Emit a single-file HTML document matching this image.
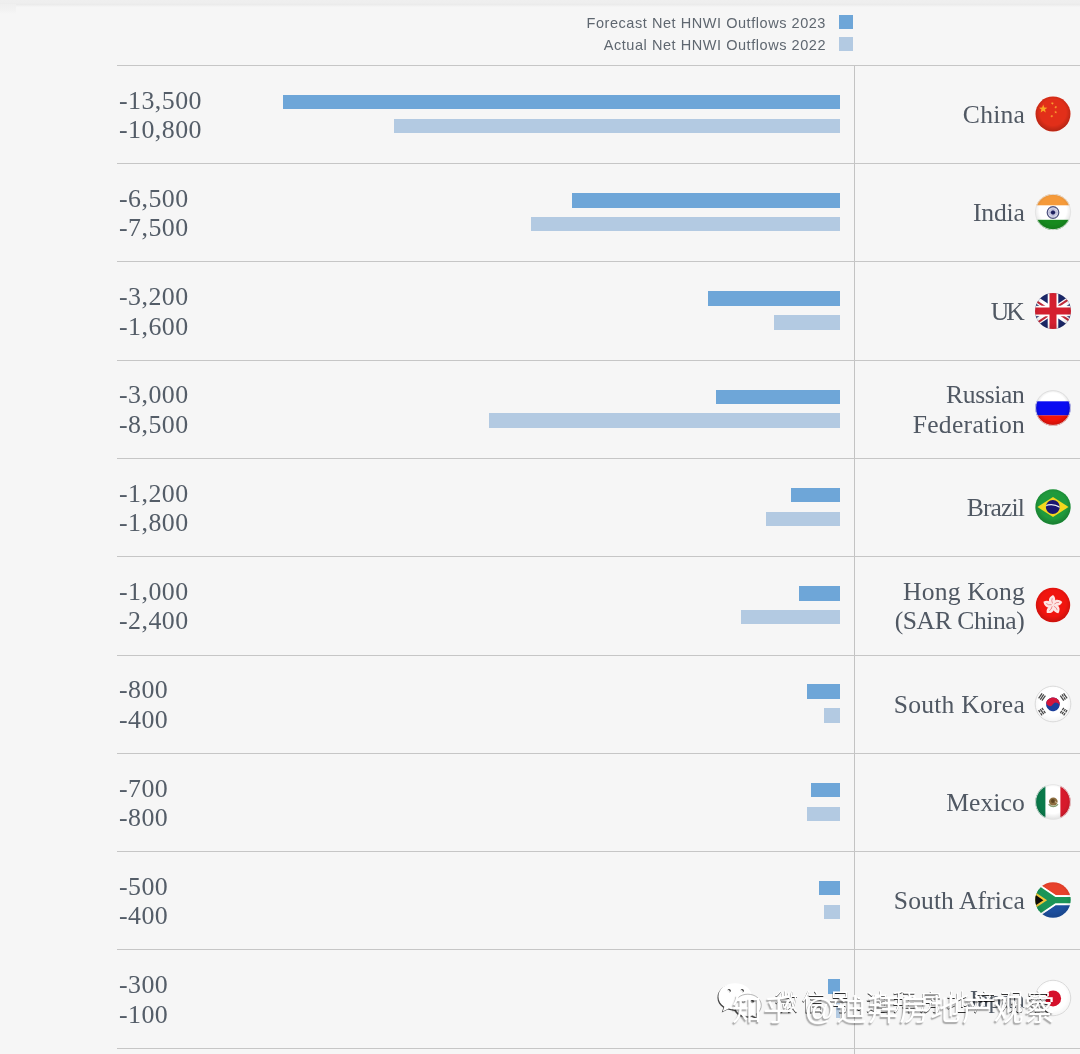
<!DOCTYPE html>
<html lang="en">
<head>
<meta charset="utf-8">
<title>Net HNWI Outflows</title>
<style>
html,body{margin:0;padding:0;}
body{width:1080px;height:1054px;overflow:hidden;background:#f6f6f6;position:relative;
  font-family:"Liberation Serif","Noto Serif CJK SC",serif;}
#chart{will-change:transform;position:absolute;left:0;top:0;width:1080px;height:1054px;overflow:hidden;background:#f6f6f6;}
.topstrip{position:absolute;left:0;top:0;width:1080px;height:8px;background:linear-gradient(to bottom,#efefef 0,#eeeeee 3px,#ebebeb 4.6px,#f2f2f2 6px,#f6f6f6 7.5px);}
.corner{position:absolute;left:0;top:4px;width:16px;height:10px;background:linear-gradient(to bottom,#efefef,#f3f3f3 70%,#f6f6f6);}
.hl{position:absolute;left:117px;width:963px;height:1px;background:#c6c6c6;}
.vl{position:absolute;left:854px;top:65px;width:1px;height:989px;background:#c3c3c3;}
.leg{position:absolute;right:254px;white-space:nowrap;font-family:"Liberation Sans",sans-serif;
  font-size:14.5px;line-height:16px;color:#5f6770;letter-spacing:0.55px;}
.sw{position:absolute;left:839px;width:14px;height:14px;}
.c1{background:#6ea6d8;}
.c2{background:#b3cae2;}
.val{position:absolute;left:119px;white-space:nowrap;font-size:25.9px;line-height:29.4px;color:#545d68;letter-spacing:0.45px;}
.bar{position:absolute;height:14.5px;}
.lab{position:absolute;right:55.2px;text-align:right;white-space:nowrap;font-size:25.6px;line-height:29.8px;color:#505863;}
.flag{position:absolute;left:1035.4px;width:36px;height:36px;}
.flag svg{display:block;width:36px;height:36px;overflow:visible;}
.wx{position:absolute;left:717px;top:982px;height:40px;white-space:nowrap;}
.wxicon{position:absolute;left:0;top:0;width:46px;height:38px;filter:drop-shadow(-0.3px 1px 0.3px rgba(0,0,0,0.72));}
.wxtext{position:absolute;left:58px;top:5px;font-family:"Liberation Sans","Noto Sans CJK SC",sans-serif;font-size:23px;line-height:30px;
  letter-spacing:3.9px;color:#ffffff;text-shadow:-0.3px 1px 0.3px rgba(0,0,0,0.8);}
.zh{position:absolute;left:732px;top:987.5px;white-space:nowrap;font-family:"Liberation Sans","Noto Sans CJK SC",sans-serif;
  font-size:30px;line-height:44px;letter-spacing:1.4px;font-weight:400;color:#ffffff;text-shadow:-1.2px 1.6px 1.2px rgba(0,0,0,0.33);}
</style>
</head>
<body>
<div id="chart">
<div class="topstrip"></div>
<div class="corner"></div>

<!-- legend -->
<div class="leg" style="top:14.5px;">Forecast Net HNWI Outflows 2023</div>
<div class="sw c1" style="top:15px;"></div>
<div class="leg" style="top:36.5px;">Actual Net HNWI Outflows 2022</div>
<div class="sw c2" style="top:37px;"></div>

<!-- grid -->
<div class="vl"></div>
<div class="hl" style="top:64.8px;"></div>
<div class="hl" style="top:163.1px;"></div>
<div class="hl" style="top:261.4px;"></div>
<div class="hl" style="top:359.6px;"></div>
<div class="hl" style="top:457.9px;"></div>
<div class="hl" style="top:556.2px;"></div>
<div class="hl" style="top:654.5px;"></div>
<div class="hl" style="top:752.8px;"></div>
<div class="hl" style="top:851.0px;"></div>
<div class="hl" style="top:949.3px;"></div>
<div class="hl" style="top:1047.6px;"></div>
<!-- row 1 -->
<div class="val" style="top:85.6px;">-13,500<br>-10,800</div>
<div class="bar c1" style="left:283.0px;width:557.0px;top:94.7px;"></div>
<div class="bar c2" style="left:394.4px;width:445.6px;top:118.5px;"></div>
<div class="lab" style="top:100.1px;"><span style="letter-spacing:0.2px;margin-right:-0.2px;">China</span></div>
<div class="flag" style="top:95.7px;"><svg viewBox="0 0 36 36" width="36" height="36"><defs><clipPath id="fc1"><circle cx="18" cy="18" r="17.5"/></clipPath><radialGradient id="fg1" cx="50%" cy="45%" r="52%"><stop offset="0.72" stop-color="#000" stop-opacity="0"/><stop offset="1" stop-color="#000" stop-opacity="0.18"/></radialGradient></defs><g clip-path="url(#fc1)"><rect width="36" height="36" fill="#e22f19"/><polygon points="8.20,8.60 9.29,11.50 12.38,11.64 9.96,13.57 10.79,16.56 8.20,14.85 5.61,16.56 6.44,13.57 4.02,11.64 7.11,11.50" fill="#f9a825"/><polygon points="18.20,6.01 18.01,7.13 18.97,7.73 17.85,7.90 17.57,8.99 17.06,7.98 15.94,8.05 16.74,7.26 16.33,6.21 17.33,6.73" fill="#f9a030"/><polygon points="22.01,10.28 21.37,11.21 21.98,12.16 20.90,11.84 20.18,12.71 20.15,11.59 19.10,11.17 20.16,10.80 20.23,9.67 20.92,10.56" fill="#f9a030"/><polygon points="20.70,14.60 21.09,15.66 22.22,15.71 21.34,16.41 21.64,17.49 20.70,16.87 19.76,17.49 20.06,16.41 19.18,15.71 20.31,15.66" fill="#f9a030"/><polygon points="17.60,18.71 17.41,19.83 18.37,20.43 17.25,20.60 16.97,21.69 16.46,20.68 15.34,20.75 16.14,19.96 15.73,18.91 16.73,19.43" fill="#f9a030"/><circle cx="18" cy="18" r="17.5" fill="url(#fg1)"/></g></svg></div>
<!-- row 2 -->
<div class="val" style="top:183.9px;">-6,500<br>-7,500</div>
<div class="bar c1" style="left:571.8px;width:268.2px;top:193.0px;"></div>
<div class="bar c2" style="left:530.6px;width:309.4px;top:216.8px;"></div>
<div class="lab" style="top:198.4px;"><span style="letter-spacing:-0.2px;margin-right:0.2px;">India</span></div>
<div class="flag" style="top:194.0px;"><svg viewBox="0 0 36 36" width="36" height="36"><defs><clipPath id="fc2"><circle cx="18" cy="18" r="18.0"/></clipPath><radialGradient id="fg2" cx="50%" cy="45%" r="52%"><stop offset="0.72" stop-color="#000" stop-opacity="0"/><stop offset="1" stop-color="#000" stop-opacity="0.1"/></radialGradient></defs><g clip-path="url(#fc2)"><rect width="36" height="36" fill="#ffffff"/><rect width="36" height="11.3" fill="#f59a3a"/><rect y="25.8" width="36" height="10.2" fill="#168a1e"/><line x1="18" y1="18.5" x2="23.60" y2="18.50" stroke="#4a4f9a" stroke-width="0.35"/><line x1="18" y1="18.5" x2="23.41" y2="19.95" stroke="#4a4f9a" stroke-width="0.35"/><line x1="18" y1="18.5" x2="22.85" y2="21.30" stroke="#4a4f9a" stroke-width="0.35"/><line x1="18" y1="18.5" x2="21.96" y2="22.46" stroke="#4a4f9a" stroke-width="0.35"/><line x1="18" y1="18.5" x2="20.80" y2="23.35" stroke="#4a4f9a" stroke-width="0.35"/><line x1="18" y1="18.5" x2="19.45" y2="23.91" stroke="#4a4f9a" stroke-width="0.35"/><line x1="18" y1="18.5" x2="18.00" y2="24.10" stroke="#4a4f9a" stroke-width="0.35"/><line x1="18" y1="18.5" x2="16.55" y2="23.91" stroke="#4a4f9a" stroke-width="0.35"/><line x1="18" y1="18.5" x2="15.20" y2="23.35" stroke="#4a4f9a" stroke-width="0.35"/><line x1="18" y1="18.5" x2="14.04" y2="22.46" stroke="#4a4f9a" stroke-width="0.35"/><line x1="18" y1="18.5" x2="13.15" y2="21.30" stroke="#4a4f9a" stroke-width="0.35"/><line x1="18" y1="18.5" x2="12.59" y2="19.95" stroke="#4a4f9a" stroke-width="0.35"/><line x1="18" y1="18.5" x2="12.40" y2="18.50" stroke="#4a4f9a" stroke-width="0.35"/><line x1="18" y1="18.5" x2="12.59" y2="17.05" stroke="#4a4f9a" stroke-width="0.35"/><line x1="18" y1="18.5" x2="13.15" y2="15.70" stroke="#4a4f9a" stroke-width="0.35"/><line x1="18" y1="18.5" x2="14.04" y2="14.54" stroke="#4a4f9a" stroke-width="0.35"/><line x1="18" y1="18.5" x2="15.20" y2="13.65" stroke="#4a4f9a" stroke-width="0.35"/><line x1="18" y1="18.5" x2="16.55" y2="13.09" stroke="#4a4f9a" stroke-width="0.35"/><line x1="18" y1="18.5" x2="18.00" y2="12.90" stroke="#4a4f9a" stroke-width="0.35"/><line x1="18" y1="18.5" x2="19.45" y2="13.09" stroke="#4a4f9a" stroke-width="0.35"/><line x1="18" y1="18.5" x2="20.80" y2="13.65" stroke="#4a4f9a" stroke-width="0.35"/><line x1="18" y1="18.5" x2="21.96" y2="14.54" stroke="#4a4f9a" stroke-width="0.35"/><line x1="18" y1="18.5" x2="22.85" y2="15.70" stroke="#4a4f9a" stroke-width="0.35"/><line x1="18" y1="18.5" x2="23.41" y2="17.05" stroke="#4a4f9a" stroke-width="0.35"/><circle cx="18" cy="18.5" r="5.8" fill="none" stroke="#4d527f" stroke-width="1.2"/><circle cx="18" cy="18.5" r="2.1" fill="#1d1f5e"/><circle cx="18" cy="18" r="18.0" fill="url(#fg2)"/></g><circle cx="18" cy="18" r="17.65" fill="none" stroke="#e3e3e3" stroke-width="0.9"/></svg></div>
<!-- row 3 -->
<div class="val" style="top:282.2px;">-3,200<br>-1,600</div>
<div class="bar c1" style="left:708.0px;width:132.0px;top:291.3px;"></div>
<div class="bar c2" style="left:774.0px;width:66.0px;top:315.1px;"></div>
<div class="lab" style="top:296.7px;"><span style="letter-spacing:-2.9px;margin-right:2.9px;">UK</span></div>
<div class="flag" style="top:292.5px;"><svg viewBox="0 0 36 36" width="36" height="36"><defs><clipPath id="fc3"><circle cx="18" cy="18" r="18.0"/></clipPath><radialGradient id="fg3" cx="50%" cy="45%" r="52%"><stop offset="0.72" stop-color="#000" stop-opacity="0"/><stop offset="1" stop-color="#000" stop-opacity="0.1"/></radialGradient></defs><g clip-path="url(#fc3)"><rect x="-9" width="54" height="36" fill="#1b2869"/><defs><clipPath id="ukt"><path d="M18,18 h27 v18 z v18 h-27 z h-27 v-18 z v-18 h27 z"/></clipPath></defs><path d="M-9,0 L45,36 M45,0 L-9,36" stroke="#fff" stroke-width="6.6"/><path d="M-9,0 L45,36 M45,0 L-9,36" stroke="#c02a3a" stroke-width="4.2" clip-path="url(#ukt)"/><path d="M18,0 v36 M-9,18 h54" stroke="#fff" stroke-width="10.6"/><path d="M18,0 v36 M-9,18 h54" stroke="#d4202f" stroke-width="7.0"/><circle cx="18" cy="18" r="18.0" fill="url(#fg3)"/></g></svg></div>
<!-- row 4 -->
<div class="val" style="top:380.4px;">-3,000<br>-8,500</div>
<div class="bar c1" style="left:716.2px;width:123.8px;top:389.5px;"></div>
<div class="bar c2" style="left:489.3px;width:350.7px;top:413.3px;"></div>
<div class="lab" style="top:380.0px;"><span style="letter-spacing:-0.38px;margin-right:0.38px;">Russian</span><br><span style="letter-spacing:0.3px;margin-right:-0.3px;">Federation</span></div>
<div class="flag" style="top:390.2px;"><svg viewBox="0 0 36 36" width="36" height="36"><defs><clipPath id="fc4"><circle cx="18" cy="18" r="17.75"/></clipPath><radialGradient id="fg4" cx="50%" cy="45%" r="52%"><stop offset="0.72" stop-color="#000" stop-opacity="0"/><stop offset="1" stop-color="#000" stop-opacity="0.16"/></radialGradient></defs><g clip-path="url(#fc4)"><rect width="36" height="36" fill="#ffffff"/><rect y="11.3" width="36" height="14.2" fill="#0a0cf2"/><rect y="25.4" width="36" height="10.6" fill="#f5140a"/><circle cx="18" cy="18" r="17.75" fill="url(#fg4)"/></g><circle cx="18" cy="18" r="17.40" fill="none" stroke="#dcdcdc" stroke-width="0.9"/></svg></div>
<!-- row 5 -->
<div class="val" style="top:478.7px;">-1,200<br>-1,800</div>
<div class="bar c1" style="left:790.5px;width:49.5px;top:487.8px;"></div>
<div class="bar c2" style="left:765.7px;width:74.3px;top:511.6px;"></div>
<div class="lab" style="top:493.2px;"><span style="letter-spacing:-0.9px;margin-right:0.9px;">Brazil</span></div>
<div class="flag" style="top:489.4px;"><svg viewBox="0 0 36 36" width="36" height="36"><defs><clipPath id="fc5"><circle cx="18" cy="18" r="17.65"/></clipPath><radialGradient id="fg5" cx="50%" cy="45%" r="52%"><stop offset="0.72" stop-color="#000" stop-opacity="0"/><stop offset="1" stop-color="#000" stop-opacity="0.16"/></radialGradient></defs><g clip-path="url(#fc5)"><rect width="36" height="36" fill="#1f9a3c"/><polygon points="2.4,18 18,8.1 33.6,18 18,27.9" fill="#f3d71e"/><circle cx="17.8" cy="18" r="6.9" fill="#1b1670"/><defs><clipPath id="brc"><circle cx="17.8" cy="18" r="6.9"/></clipPath></defs><path d="M9.5,17.2 Q18,13.2 26.5,19.2" fill="none" stroke="#e9ecf5" stroke-width="1.4" clip-path="url(#brc)"/><circle cx="18" cy="18" r="17.65" fill="url(#fg5)"/></g></svg></div>
<!-- row 6 -->
<div class="val" style="top:577.0px;">-1,000<br>-2,400</div>
<div class="bar c1" style="left:798.7px;width:41.3px;top:586.1px;"></div>
<div class="bar c2" style="left:741.0px;width:99.0px;top:609.9px;"></div>
<div class="lab" style="top:576.6px;"><span style="letter-spacing:0.2px;margin-right:-0.2px;">Hong Kong</span><br><span style="letter-spacing:-0.42px;margin-right:0.42px;">(SAR China)</span></div>
<div class="flag" style="top:587.1px;"><svg viewBox="0 0 36 36" width="36" height="36"><defs><clipPath id="fc6"><circle cx="18" cy="18" r="17.2"/></clipPath><radialGradient id="fg6" cx="50%" cy="45%" r="52%"><stop offset="0.72" stop-color="#000" stop-opacity="0"/><stop offset="1" stop-color="#000" stop-opacity="0.14"/></radialGradient></defs><g clip-path="url(#fc6)"><rect width="36" height="36" fill="#f0150f"/><g transform="translate(17.8,18)"><g transform="rotate(-3)"><path d="M0,0.4 C-4.9,-1.6 -5.2,-7.4 0.7,-9.9 C3.9,-7.0 3.0,-2.4 0,0.4 Z" fill="#fde6e4"/><path d="M0,-1.2 Q-1.6,-4.5 -0.2,-6.8" fill="none" stroke="#e0303a" stroke-width="0.45"/></g><g transform="rotate(69)"><path d="M0,0.4 C-4.9,-1.6 -5.2,-7.4 0.7,-9.9 C3.9,-7.0 3.0,-2.4 0,0.4 Z" fill="#fde6e4"/><path d="M0,-1.2 Q-1.6,-4.5 -0.2,-6.8" fill="none" stroke="#e0303a" stroke-width="0.45"/></g><g transform="rotate(141)"><path d="M0,0.4 C-4.9,-1.6 -5.2,-7.4 0.7,-9.9 C3.9,-7.0 3.0,-2.4 0,0.4 Z" fill="#fde6e4"/><path d="M0,-1.2 Q-1.6,-4.5 -0.2,-6.8" fill="none" stroke="#e0303a" stroke-width="0.45"/></g><g transform="rotate(213)"><path d="M0,0.4 C-4.9,-1.6 -5.2,-7.4 0.7,-9.9 C3.9,-7.0 3.0,-2.4 0,0.4 Z" fill="#fde6e4"/><path d="M0,-1.2 Q-1.6,-4.5 -0.2,-6.8" fill="none" stroke="#e0303a" stroke-width="0.45"/></g><g transform="rotate(285)"><path d="M0,0.4 C-4.9,-1.6 -5.2,-7.4 0.7,-9.9 C3.9,-7.0 3.0,-2.4 0,0.4 Z" fill="#fde6e4"/><path d="M0,-1.2 Q-1.6,-4.5 -0.2,-6.8" fill="none" stroke="#e0303a" stroke-width="0.45"/></g></g><circle cx="18" cy="18" r="17.2" fill="url(#fg6)"/></g></svg></div>
<!-- row 7 -->
<div class="val" style="top:675.3px;">-800<br>-400</div>
<div class="bar c1" style="left:807.0px;width:33.0px;top:684.4px;"></div>
<div class="bar c2" style="left:823.5px;width:16.5px;top:708.2px;"></div>
<div class="lab" style="top:689.8px;"><span style="letter-spacing:0.25px;margin-right:-0.25px;">South Korea</span></div>
<div class="flag" style="top:685.8px;"><svg viewBox="0 0 36 36" width="36" height="36"><defs><clipPath id="fc7"><circle cx="18" cy="18" r="18.2"/></clipPath><radialGradient id="fg7" cx="50%" cy="45%" r="52%"><stop offset="0.72" stop-color="#000" stop-opacity="0"/><stop offset="1" stop-color="#000" stop-opacity="0.04"/></radialGradient></defs><g clip-path="url(#fc7)"><rect width="36" height="36" fill="#ffffff"/><g transform="translate(17.9,18.3) rotate(30)"><circle r="6.9" fill="#1c3f9b"/><path d="M-6.9,0 A6.9,6.9 0 0 1 6.9,0 A3.45,3.45 0 0 0 0,0 A3.45,3.45 0 0 1 -6.9,0 Z" fill="#d3163b"/></g><g transform="translate(7.0,11.0) rotate(-56)" fill="#454545"><rect x="-3.1" y="-2.62" width="6.2" height="1.25"/><rect x="-3.1" y="-0.62" width="6.2" height="1.25"/><rect x="-3.1" y="1.38" width="6.2" height="1.25"/></g><g transform="translate(28.7,11.0) rotate(56)" fill="#454545"><rect x="-3.1" y="-2.62" width="6.2" height="1.25"/><rect x="-3.1" y="-0.62" width="2.7" height="1.25"/><rect x="0.4" y="-0.62" width="2.7" height="1.25"/><rect x="-3.1" y="1.38" width="6.2" height="1.25"/></g><g transform="translate(7.0,25.6) rotate(56)" fill="#454545"><rect x="-3.1" y="-2.62" width="2.7" height="1.25"/><rect x="0.4" y="-2.62" width="2.7" height="1.25"/><rect x="-3.1" y="-0.62" width="6.2" height="1.25"/><rect x="-3.1" y="1.38" width="2.7" height="1.25"/><rect x="0.4" y="1.38" width="2.7" height="1.25"/></g><g transform="translate(28.7,25.6) rotate(-56)" fill="#454545"><rect x="-3.1" y="-2.62" width="2.7" height="1.25"/><rect x="0.4" y="-2.62" width="2.7" height="1.25"/><rect x="-3.1" y="-0.62" width="2.7" height="1.25"/><rect x="0.4" y="-0.62" width="2.7" height="1.25"/><rect x="-3.1" y="1.38" width="2.7" height="1.25"/><rect x="0.4" y="1.38" width="2.7" height="1.25"/></g><circle cx="18" cy="18" r="18.2" fill="url(#fg7)"/></g><circle cx="18" cy="18" r="17.85" fill="none" stroke="#d6d6d6" stroke-width="0.9"/></svg></div>
<!-- row 8 -->
<div class="val" style="top:773.6px;">-700<br>-800</div>
<div class="bar c1" style="left:811.1px;width:28.9px;top:782.7px;"></div>
<div class="bar c2" style="left:807.0px;width:33.0px;top:806.5px;"></div>
<div class="lab" style="top:788.1px;"><span style="letter-spacing:0.1px;margin-right:-0.1px;">Mexico</span></div>
<div class="flag" style="top:784.3px;"><svg viewBox="0 0 36 36" width="36" height="36"><defs><clipPath id="fc8"><circle cx="18" cy="18" r="17.75"/></clipPath><radialGradient id="fg8" cx="50%" cy="45%" r="52%"><stop offset="0.72" stop-color="#000" stop-opacity="0"/><stop offset="1" stop-color="#000" stop-opacity="0.1"/></radialGradient></defs><g clip-path="url(#fc8)"><rect width="36" height="36" fill="#ffffff"/><rect width="10.4" height="36" fill="#0a7a4b"/><rect x="25.4" width="10.6" height="36" fill="#d71a2c"/><ellipse cx="18.3" cy="17.6" rx="4.3" ry="4.0" fill="#8d6e40"/><circle cx="17.9" cy="17.0" r="1.9" fill="#5f4522"/><path d="M13.6,20.2 Q18.3,25.0 23.0,20.2" fill="none" stroke="#86a073" stroke-width="1.4"/><path d="M19.9,17.6 l1.8,1.1" stroke="#d9c9a5" stroke-width="1"/><circle cx="18" cy="18" r="17.75" fill="url(#fg8)"/></g><circle cx="18" cy="18" r="17.40" fill="none" stroke="#e3e3e3" stroke-width="0.9"/></svg></div>
<!-- row 9 -->
<div class="val" style="top:871.8px;">-500<br>-400</div>
<div class="bar c1" style="left:819.4px;width:20.6px;top:880.9px;"></div>
<div class="bar c2" style="left:823.5px;width:16.5px;top:904.7px;"></div>
<div class="lab" style="top:886.3px;"><span style="letter-spacing:0.08px;margin-right:-0.08px;">South Africa</span></div>
<div class="flag" style="top:882.0px;"><svg viewBox="0 0 36 36" width="36" height="36"><defs><clipPath id="fc9"><circle cx="18" cy="18" r="17.75"/></clipPath><radialGradient id="fg9" cx="50%" cy="45%" r="52%"><stop offset="0.72" stop-color="#000" stop-opacity="0"/><stop offset="1" stop-color="#000" stop-opacity="0.1"/></radialGradient></defs><g clip-path="url(#fc9)"><rect width="36" height="36" fill="#ffffff"/><polygon points="-1,-1 37,-1 37,13.2 20.3,13.2 -1,-1.2" fill="#e8412b"/><polygon points="-1,37 37,37 37,23.1 20.3,23.1 -1,37.5" fill="#1d4f9e"/><path d="M37,18.15 H19.4 L-8,-0.3 M19.4,18.15 L-8,36.6" fill="none" stroke="#fff" stroke-width="10" stroke-linejoin="miter"/><path d="M37,18.15 H19.4 L-8,-0.3 M19.4,18.15 L-8,36.6" fill="none" stroke="#1b9558" stroke-width="6.3" stroke-linejoin="miter"/><polygon points="19.4,18.15 -8,-0.3 -8,36.6" fill="#1b9558"/><polygon points="12.1,18.15 -1,9.3 -1,27.0" fill="#f3c737"/><polygon points="8.4,18.15 -1,11.8 -1,24.5" fill="#0d0d0d"/><circle cx="18" cy="18" r="17.75" fill="url(#fg9)"/></g></svg></div>
<!-- row 10 -->
<div class="val" style="top:970.1px;">-300<br>-100</div>
<div class="bar c1" style="left:827.6px;width:12.4px;top:979.2px;"></div>
<div class="bar c2" style="left:835.9px;width:4.1px;top:1003.0px;"></div>
<div class="lab" style="top:984.6px;"><span style="letter-spacing:-0.3px;margin-right:0.3px;">Japan</span></div>
<div class="flag" style="top:980.2px;"><svg viewBox="0 0 36 36" width="36" height="36"><defs><clipPath id="fc10"><circle cx="18" cy="18" r="18.1"/></clipPath><radialGradient id="fg10" cx="50%" cy="45%" r="52%"><stop offset="0.72" stop-color="#000" stop-opacity="0"/><stop offset="1" stop-color="#000" stop-opacity="0.04"/></radialGradient></defs><g clip-path="url(#fc10)"><rect width="36" height="36" fill="#ffffff"/><circle cx="18.1" cy="18.4" r="8" fill="#d5102b"/><circle cx="18" cy="18" r="18.1" fill="url(#fg10)"/></g><circle cx="18" cy="18" r="17.75" fill="none" stroke="#d6d6d6" stroke-width="0.9"/></svg></div>
<!-- WeChat watermark -->
<div class="wx">
<svg class="wxicon" viewBox="0 0 32 28" width="46" height="38" preserveAspectRatio="none">
<path fill="#ffffff" fill-rule="evenodd" d="M12.6,1.0 C6.0,1.0 1.0,5.3 1.0,10.8 C1.0,13.8 2.6,16.4 5.1,18.2 L4.0,21.8 L8.2,19.6 C9.6,20.1 11.0,20.4 12.6,20.4 C19.2,20.4 24.2,16.1 24.2,10.8 C24.2,5.3 19.2,1.0 12.6,1.0 Z M8.4,5.2 a1.25,1.25 0 1 0 0.01,0 Z M17.5,5.2 a1.25,1.25 0 1 0 0.01,0 Z"/>
<path fill="#ffffff" fill-rule="evenodd" stroke="#444" stroke-opacity="0.55" stroke-width="0.5" d="M21.4,9.0 C16.2,9.0 12.2,12.6 12.2,17.2 C12.2,21.8 16.2,25.4 21.4,25.4 C22.6,25.4 23.7,25.2 24.8,24.8 L28.2,26.8 L27.3,23.6 C29.5,22.1 30.8,19.8 30.8,17.2 C30.8,12.6 26.6,9.0 21.4,9.0 Z M18.3,13.2 a1.05,1.05 0 1 0 0.01,0 Z M24.6,13.2 a1.05,1.05 0 1 0 0.01,0 Z"/>
</svg>
<span class="wxtext">微信号:迪拜房地产观察</span>
</div>
<!-- Zhihu watermark -->
<div class="zh">知乎 @迪拜房地产观察</div>

</div>
</body>
</html>
